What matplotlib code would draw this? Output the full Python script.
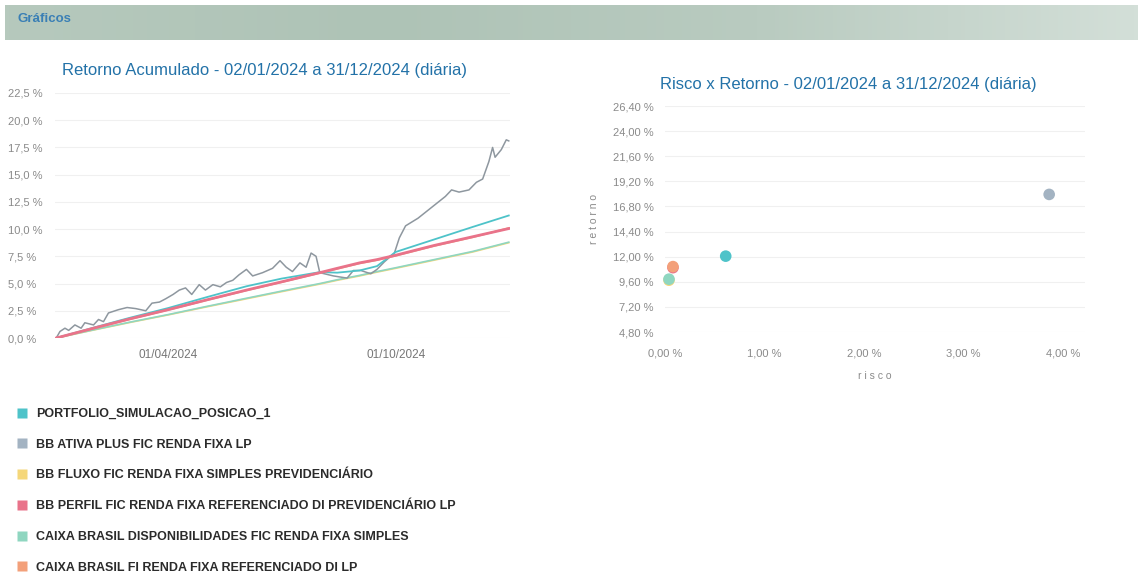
import matplotlib
matplotlib.use("Agg")
import matplotlib.pyplot as plt
import matplotlib.dates as mdates
import numpy as np
import pandas as pd
from matplotlib.lines import Line2D

plt.rcParams['font.family'] = ['Liberation Sans', 'DejaVu Sans']

# nomes das series
nomes = [
    "PORTFOLIO_SIMULACAO_POSICAO_1",
    "BB ATIVA PLUS FIC RENDA FIXA LP",
    "BB FLUXO FIC RENDA FIXA SIMPLES PREVIDENCIÁRIO",
    "BB PERFIL FIC RENDA FIXA REFERENCIADO DI PREVIDENCIÁRIO LP",
    "CAIXA BRASIL DISPONIBILIDADES FIC RENDA FIXA SIMPLES",
    "CAIXA BRASIL FI RENDA FIXA REFERENCIADO DI LP",
]
cores = ["#4ec3c9", "#a3b3c2", "#f5d77a", "#e9738a", "#8fd6c0", "#f3a07a"]
cor_linha_ativa = "#8e979f"

# retorno acumulado (%) - series suaves
datas_mensais = ['2024-01-02', '2024-02-01', '2024-03-01', '2024-04-01', '2024-05-02',
                 '2024-06-03', '2024-07-01', '2024-08-01', '2024-08-15', '2024-09-02',
                 '2024-09-16', '2024-10-01', '2024-11-01', '2024-12-02', '2024-12-31']
ret_portfolio = [0, 0.95, 1.85, 2.75, 3.75, 4.75, 5.45, 6.05, 6.0, 6.2, 6.6, 7.9, 9.05, 10.2, 11.25]
ret_fluxo = [0, 0.73, 1.42, 2.12, 2.86, 3.6, 4.25, 4.95, 5.3, 5.7, 6.05, 6.4, 7.15, 7.9, 8.75]
ret_perfil = [0, 0.9, 1.75, 2.6, 3.5, 4.4, 5.15, 6.0, 6.4, 6.9, 7.2, 7.6, 8.5, 9.3, 10.05]
ret_disp = [0, 0.75, 1.45, 2.15, 2.9, 3.65, 4.3, 5.0, 5.35, 5.75, 6.1, 6.45, 7.2, 7.95, 8.8]
ret_caixa_di = [0, 0.88, 1.72, 2.58, 3.47, 4.37, 5.12, 5.97, 6.35, 6.85, 7.15, 7.55, 8.45, 9.25, 10.1]

# retorno acumulado (%) - BB ATIVA PLUS (mais volatil)
datas_ativa = ['2024-01-02', '2024-01-05', '2024-01-09', '2024-01-12', '2024-01-17', '2024-01-22',
               '2024-01-25', '2024-02-01', '2024-02-05', '2024-02-09', '2024-02-13', '2024-02-21',
               '2024-02-28', '2024-03-06', '2024-03-14', '2024-03-19', '2024-03-25', '2024-03-30',
               '2024-04-05', '2024-04-10', '2024-04-15', '2024-04-20', '2024-04-26', '2024-05-01',
               '2024-05-07', '2024-05-13', '2024-05-18', '2024-05-23', '2024-05-28', '2024-06-03',
               '2024-06-08', '2024-06-16', '2024-06-24', '2024-06-30', '2024-07-05', '2024-07-10',
               '2024-07-16', '2024-07-21', '2024-07-25', '2024-07-29', '2024-08-01', '2024-08-12',
               '2024-08-23', '2024-08-28', '2024-09-03', '2024-09-11', '2024-09-16', '2024-09-22',
               '2024-09-30', '2024-10-04', '2024-10-09', '2024-10-19', '2024-10-30', '2024-11-10',
               '2024-11-15', '2024-11-21', '2024-11-29', '2024-12-05', '2024-12-10', '2024-12-15',
               '2024-12-18', '2024-12-20', '2024-12-25', '2024-12-29', '2024-12-31']
ret_ativa = [0, 0.6, 0.9, 0.7, 1.2, 0.9,
             1.4, 1.2, 1.7, 1.5, 2.3, 2.6,
             2.8, 2.7, 2.5, 3.2, 3.3, 3.6,
             4.0, 4.4, 4.6, 4.0, 4.9, 4.4,
             4.9, 4.7, 5.1, 5.3, 5.8, 6.3,
             5.7, 6.0, 6.4, 7.1, 6.5, 6.1,
             6.9, 6.5, 7.8, 7.5, 6.0, 5.7,
             5.5, 6.2, 6.2, 5.9, 6.3, 7.0,
             7.8, 9.2, 10.3, 11.0, 12.0, 13.0,
             13.6, 13.4, 13.6, 14.3, 14.6, 16.2,
             17.5, 16.6, 17.3, 18.2, 18.1]

# risco x retorno (%)
risco = [0.61, 3.86, 0.04, 0.08, 0.04, 0.08]
retorno = [12.05, 17.95, 9.75, 10.95, 9.85, 11.05]

ticks_esq = [0, 2.5, 5, 7.5, 10, 12.5, 15, 17.5, 20, 22.5]
ticks_risco = [0, 1, 2, 3, 4]
ticks_retorno = [4.8, 7.2, 9.6, 12.0, 14.4, 16.8, 19.2, 21.6, 24.0, 26.4]

cor_titulo = "#2372a8"
cor_tick = "#8a8a8a"

fig = plt.figure(figsize=(11.43, 5.84), dpi=100)
W, H = 1143.0, 584.0

# faixa de cabecalho
ax_head = fig.add_axes([5 / W, 1 - 40 / H, 1133 / W, 35 / H])
grad = np.linspace(0, 1, 256).reshape(1, -1)
cmap = matplotlib.colors.LinearSegmentedColormap.from_list(
    "faixa", ["#b6c9bd", "#aec3b6", "#b9cbc0", "#d3dfd8"])
ax_head.imshow(grad, aspect='auto', cmap=cmap, extent=[0, 1, 0, 1])
ax_head.set_axis_off()
fig.text(17 / W, 1 - 19 / H, "Gráficos", color="#3a7fb5", fontsize=9.5, fontweight='bold', va='center')

# grafico de retorno acumulado
ax1 = fig.add_axes([55 / W, 1 - 338 / H, 455 / W, 245 / H])
d_m = pd.to_datetime(datas_mensais)
d_a = pd.to_datetime(datas_ativa)
ax1.plot(d_m, ret_fluxo, color=cores[2], lw=1.2)
ax1.plot(d_m, ret_disp, color=cores[4], lw=1.2)
ax1.plot(d_a, ret_ativa, color=cor_linha_ativa, lw=1.1)
ax1.plot(d_m, ret_portfolio, color=cores[0], lw=1.3)
ax1.plot(d_m, ret_caixa_di, color=cores[5], lw=1.3)
ax1.plot(d_m, ret_perfil, color=cores[3], lw=2.0)
ax1.set_ylim(0, 22.5)
ax1.set_xlim(pd.Timestamp('2024-01-01'), pd.Timestamp('2025-01-01'))
ax1.set_yticks(ticks_esq)
ax1.set_yticklabels([("%.1f %%" % v).replace('.', ',') for v in ticks_esq])
ax1.set_xticks(pd.to_datetime(['2024-04-01', '2024-10-01']))
ax1.xaxis.set_major_formatter(mdates.DateFormatter('%d/%m/%Y'))
ax1.tick_params(axis='y', length=0, pad=34, labelsize=8, colors=cor_tick)
ax1.tick_params(axis='x', length=0, pad=8, labelsize=8.5, colors="#777777")
for lab in ax1.get_yticklabels():
    lab.set_ha('left')
ax1.grid(axis='y', color="#f0f0f0", lw=0.8)
for s in ax1.spines.values():
    s.set_visible(False)
ax1.set_title("Retorno Acumulado - 02/01/2024 a 31/12/2024 (diária)", color=cor_titulo,
              fontsize=12, pad=13, x=0.46)

# grafico risco x retorno
ax2 = fig.add_axes([665 / W, 1 - 332 / H, 420 / W, 226 / H])
ordem = [1, 0, 3, 5, 2, 4]
for i in ordem:
    ax2.scatter(risco[i], retorno[i], s=70, color=cores[i], edgecolors='none', zorder=3,
                clip_on=False)
ax2.set_xlim(0, 4.22)
ax2.set_ylim(4.8, 26.4)
ax2.set_xticks(ticks_risco)
ax2.set_xticklabels([("%.2f %%" % v).replace('.', ',') for v in ticks_risco])
ax2.set_yticks(ticks_retorno)
ax2.set_yticklabels([("%.2f %%" % v).replace('.', ',') for v in ticks_retorno])
ax2.tick_params(length=0, labelsize=8, colors=cor_tick)
ax2.tick_params(axis='x', pad=12)
ax2.tick_params(axis='y', pad=8)
ax2.grid(axis='y', color="#f0f0f0", lw=0.8)
for s in ax2.spines.values():
    s.set_visible(False)
ax2.set_xlabel("r i s c o", color=cor_tick, fontsize=7.5, labelpad=9)
ax2.set_ylabel("r e t o r n o", color=cor_tick, fontsize=7.5, labelpad=10)
ax2.set_title("Risco x Retorno - 02/01/2024 a 31/12/2024 (diária)", color=cor_titulo,
              fontsize=12, pad=12, x=0.436)

# legenda
handles = [Line2D([0], [0], marker='s', color='none', markerfacecolor=c, markeredgecolor='none',
                  markersize=7.5) for c in cores]
leg = fig.legend(handles, nomes, loc='upper left', bbox_to_anchor=(12 / W, 1 - 403 / H),
                 frameon=False, fontsize=9, handlelength=0.8, handletextpad=0.7,
                 labelspacing=1.5, borderaxespad=0)
for t in leg.get_texts():
    t.set_color("#2b2b2b")
    t.set_fontweight('bold')

fig.savefig("out.png", dpi=100, facecolor='white')
